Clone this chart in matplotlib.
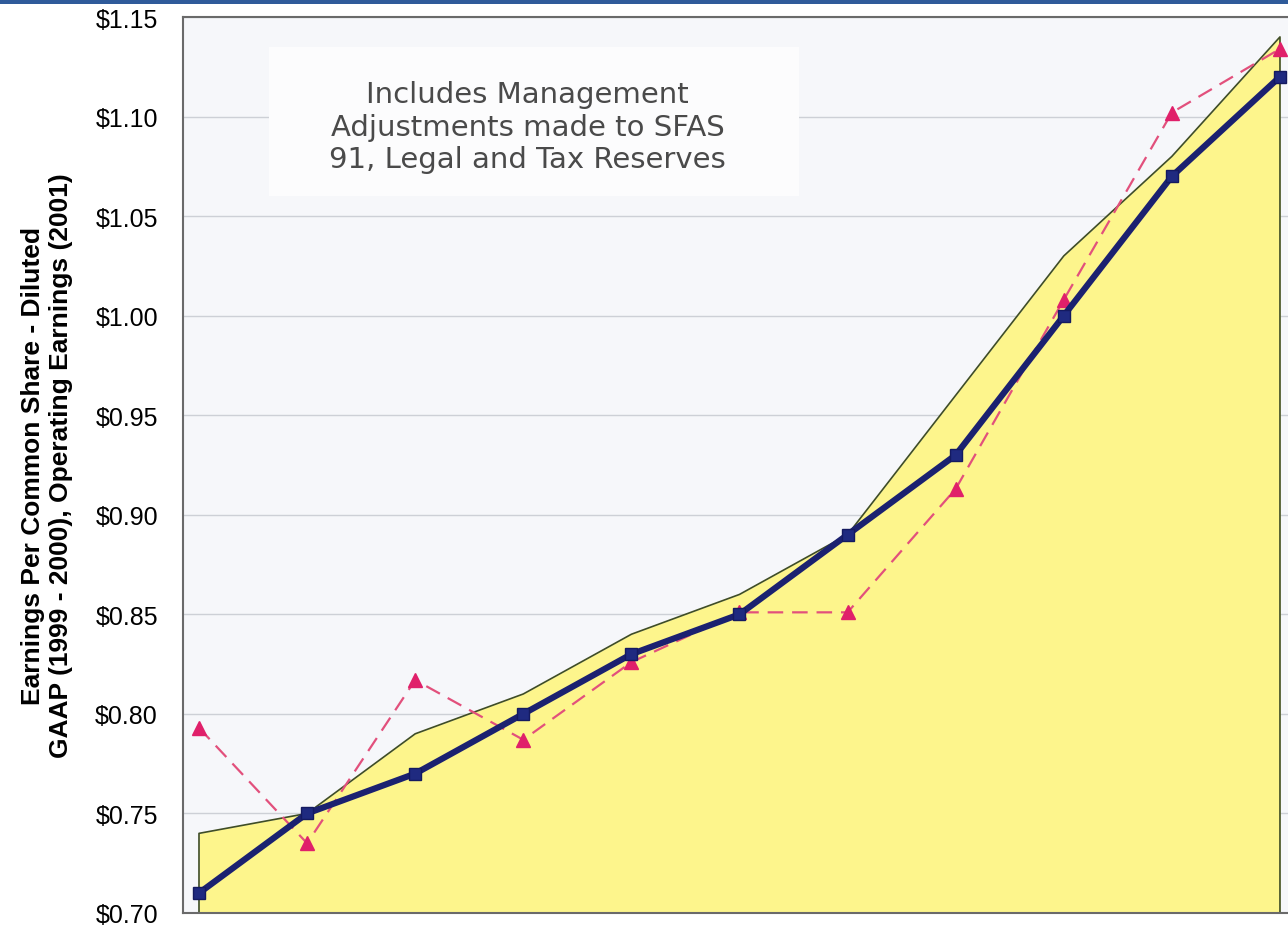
import matplotlib
matplotlib.use("Agg")
import matplotlib.pyplot as plt
from matplotlib.patches import Rectangle

# 数据
points = list(range(11))
eps_reported = [0.71, 0.75, 0.77, 0.80, 0.83, 0.85, 0.89, 0.93, 1.00, 1.07, 1.12]
eps_adjusted = [0.74, 0.75, 0.79, 0.81, 0.84, 0.86, 0.89, 0.96, 1.03, 1.08, 1.14]
eps_other = [0.793, 0.735, 0.817, 0.787, 0.826, 0.851, 0.851, 0.913, 1.008, 1.102, 1.134]
y_ticks = [0.70, 0.75, 0.80, 0.85, 0.90, 0.95, 1.00, 1.05, 1.10, 1.15]
y_labels = ["$0.70", "$0.75", "$0.80", "$0.85", "$0.90", "$0.95",
            "$1.00", "$1.05", "$1.10", "$1.15"]
note = "Includes Management\nAdjustments made to SFAS\n91, Legal and Tax Reserves"
ylabel = "Earnings Per Common Share - Diluted\nGAAP (1999 - 2000), Operating Earnings (2001)"

plt.rcParams["font.family"] = ["Liberation Sans", "DejaVu Sans"]

fig = plt.figure(figsize=(12.88, 9.28), dpi=100)
ax = fig.add_axes([183 / 1288, 14 / 928, 1112 / 1288, 896 / 928])
ax.set_facecolor("#f6f7fa")

# 黄色面积及其轮廓
ax.fill_between(points, 0.70, eps_adjusted, color="#fdf58c", zorder=1, linewidth=0)
outline_x = [points[0]] + points + [points[-1]]
outline_y = [0.70] + eps_adjusted + [0.70]
ax.plot(outline_x, outline_y, color="#3f4d25", linewidth=1.2, zorder=2)

# 粉色虚线
ax.plot(points, eps_other, color="#e2507c", linewidth=1.6, dashes=(7, 4),
        marker="^", markersize=10, markerfacecolor="#e0206a",
        markeredgecolor="#e0206a", zorder=3)

# 深蓝主线
ax.plot(points, eps_reported, color="#1b2170", linewidth=4.5,
        marker="s", markersize=9, markerfacecolor="#1f2a80",
        markeredgecolor="#141a60", zorder=4)

# 注释文字（浅色底块遮住网格线）
ax.add_patch(Rectangle((0.65, 1.06), 4.9, 0.075, facecolor="#fcfcfd",
                       edgecolor="none", zorder=0.8))
ax.text(3.04, 1.095, note, ha="center", va="center", fontsize=21,
        color="#4a4a4a", family="DejaVu Sans", linespacing=1.2, zorder=5)

ax.set_xlim(-0.148, 10.139)
ax.set_ylim(0.70, 1.15)
ax.set_yticks(y_ticks)
ax.set_yticklabels(y_labels, fontsize=18)
ax.set_xticks([])
ax.tick_params(axis="y", length=0, pad=18)
ax.set_axisbelow(True)
ax.grid(axis="y", color="#cdd0d6", linewidth=1.0)

ax.set_ylabel(ylabel, fontsize=19, fontweight="bold", labelpad=16,
              linespacing=1.2)

for side in ["left", "top", "bottom"]:
    ax.spines[side].set_color("#6a6a6a")
    ax.spines[side].set_linewidth(1.5)
ax.spines["right"].set_visible(False)

# 顶部蓝色条（幻灯片标题栏残留）
fig.add_artist(Rectangle((0, 1 - 5 / 928), 1, 5 / 928, transform=fig.transFigure,
                         facecolor="#2f5b9a", edgecolor="none"))

fig.savefig("out.png", dpi=100)
plt.close(fig)
